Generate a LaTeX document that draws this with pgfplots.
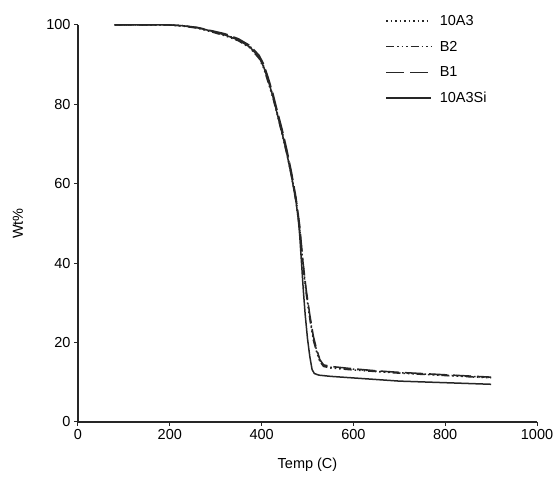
\documentclass[border=0pt]{standalone}
\usepackage{pgfplots}
\pgfplotsset{compat=1.18}
\usepackage{fontspec}
\setmainfont{Liberation Sans}

\begin{document}
\begin{tikzpicture}
\begin{axis}[
  scale only axis,
  width=459pt, height=397pt,
  axis lines=left,
  axis line style={line width=1.3pt, -, black!85},
  xmin=0, xmax=1000, ymin=0, ymax=100,
  xtick={0,200,...,1000}, ytick={0,20,...,100},
  tick align=outside, major tick length=4pt,
  tick style={line width=1pt, black!85},
  font=\fontsize{14.5}{16}\selectfont,
  /pgf/number format/assume math mode=true,
  /pgf/number format/1000 sep={},
  xlabel={Temp (C)}, ylabel={Wt\%},
  x label style={at={(axis description cs:0.5,-0.108)}, anchor=center},
  y label style={at={(axis description cs:-0.131,0.5)}, anchor=center},
  legend style={at={(axis description cs:0.669,1.03)}, anchor=north west,
    draw=none, fill=none, row sep=10pt, inner sep=0pt,
    font=\fontsize{14.5}{16}\selectfont,
    /tikz/every odd column/.append style={column sep=6pt}},
  legend cell align=left,
  legend image code/.code={\draw[#1] (0pt,0pt) -- (45pt,0pt);},
  every axis plot/.append style={line width=1.5pt, black!85},
]
\addplot[dash pattern=on 1.5pt off 3pt] coordinates {
(80,100)(120,100)(160,100)(200,100)(230,99.8)(260,99.3)(290,98.5)(320,97.6)(350,96.3)(375,94.6)(395,92)(405,89.5)(415,86)(425,82)(435,77.5)(445,73)(455,68)(465,62.5)(475,56)(483,49)(490,40)(497,33)(505,26.5)(513,21)(520,18)(527,15.5)(535,14.2)(550,13.8)(600,13.3)(650,12.8)(700,12.4)(750,12.1)(800,11.8)(850,11.5)(900,11.2)};
\addlegendentry{10A3}
\addplot[dash pattern=on 8pt off 3pt on 1.5pt off 3pt on 1.5pt off 3pt on 1.5pt off 3pt] coordinates {
(80,100)(120,100)(160,100)(200,100)(230,99.7)(260,99.2)(290,98.3)(320,97.3)(350,96.0)(375,94.2)(395,91.5)(405,89)(415,85.3)(425,81.5)(435,77)(445,72.3)(455,67.5)(465,62)(475,55.5)(483,48.5)(490,39.5)(497,32.5)(505,26)(513,20.5)(520,17.6)(527,15.2)(535,14.0)(550,13.6)(600,13.1)(650,12.7)(700,12.3)(750,12.0)(800,11.7)(850,11.4)(900,11.1)};
\addlegendentry{B2}
\addplot[dash pattern=on 18pt off 6pt] coordinates {
(80,100)(120,100)(160,100)(200,100)(230,99.8)(260,99.4)(290,98.6)(320,97.8)(350,96.5)(375,94.8)(395,92.3)(405,90)(415,86.5)(425,82.6)(435,78)(445,73.6)(455,68.6)(465,63)(475,56.5)(483,49.5)(490,40.5)(497,33.5)(505,27)(513,21.5)(520,18.3)(527,15.7)(535,14.4)(550,14.0)(600,13.4)(650,12.9)(700,12.5)(750,12.2)(800,11.9)(850,11.6)(900,11.3)};
\addlegendentry{B1}
\addplot[solid] coordinates {
(80,100)(120,100)(160,100)(200,100)(230,99.8)(260,99.3)(290,98.5)(320,97.5)(350,96.2)(375,94.4)(395,91.8)(405,89.3)(415,85.8)(425,81.8)(435,77.2)(445,72.6)(455,67.6)(465,62)(475,55.5)(480,51)(483,47)(487,40)(491,33)(495,27)(500,21)(505,16.5)(510,13.2)(515,12.2)(525,11.8)(550,11.5)(600,11.1)(650,10.7)(700,10.3)(750,10.1)(800,9.9)(850,9.7)(900,9.5)};
\addlegendentry{10A3Si}
\end{axis}
\pgfresetboundingbox
\path[use as bounding box] ([xshift=-78pt,yshift=-56pt]current axis.south west) rectangle ([xshift=19pt,yshift=25pt]current axis.north east);
\end{tikzpicture}
\end{document}
